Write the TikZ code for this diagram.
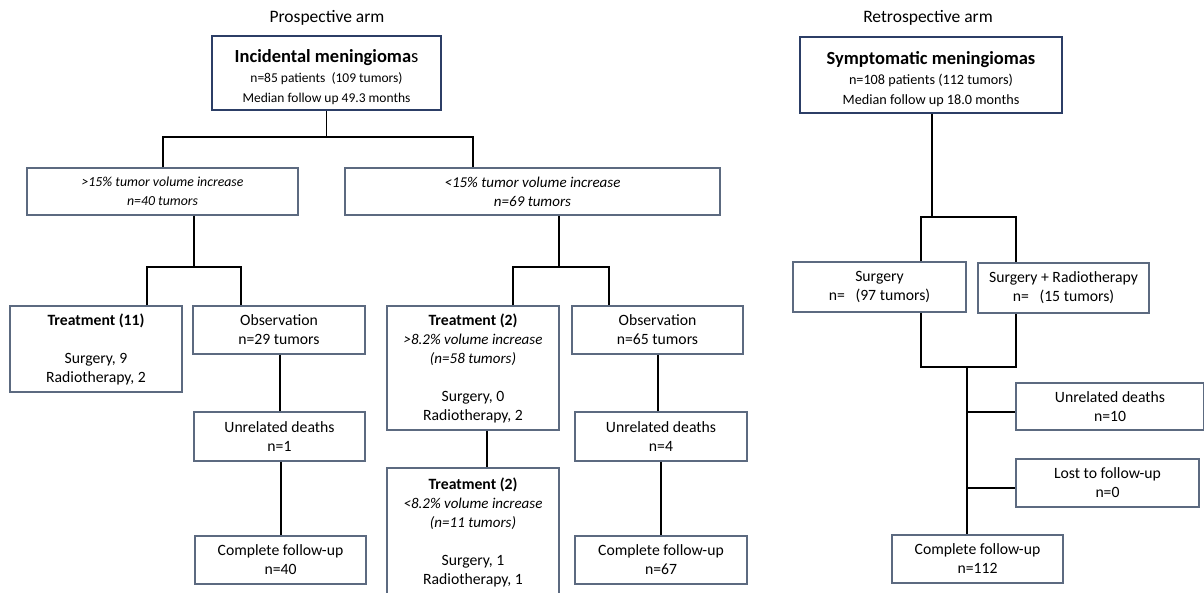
\documentclass[tikz,border=0pt]{standalone}
\usepackage{fontspec}
\setmainfont{Carlito}
\definecolor{boxc}{RGB}{92,106,128}
\definecolor{navy}{RGB}{44,62,102}
\newcommand{\itA}[1]{{\fontsize{13.8}{19}\selectfont\itshape #1}}
\newcommand{\itC}[1]{{\fontsize{15}{19}\selectfont\itshape #1}}
\newcommand{\itB}[1]{{\fontsize{15}{19}\selectfont\itshape #1}}
\newcommand{\bigtitle}[1]{{\fontsize{18.5}{20}\selectfont\bfseries #1}}
\tikzset{
  box/.style={draw=boxc, line width=1.3pt, inner sep=0pt, align=center, anchor=center,
    font=\fontsize{15.7}{19}\selectfont},
  frame/.style={draw=navy, line width=2.6pt, inner sep=0pt, anchor=center},
  frametext/.style={inner sep=0pt, align=center, font=\fontsize{13.5}{20}\selectfont},
  armtitle/.style={inner sep=0pt, font=\fontsize{17.5}{20}\selectfont},
  link/.style={draw=black, line width=1.3pt}
}
\begin{document}
\begin{tikzpicture}[x=1pt,y=-1pt]
\useasboundingbox (0,0) rectangle (1204,592);
% titles
\node[armtitle] (ptitle) at (327,18) {Prospective arm};
\node[armtitle] (rtitle) at (928,18) {Retrospective arm};
% top boxes
\node[frame, minimum width=229pt, minimum height=74pt] (inc) at (326.5,73) {};
\node[frametext, yshift=-4.5pt] (inctext) at (inc.center)
  {\bigtitle{Incidental meningioma}{\fontsize{18.5}{20}\selectfont s}\\n=85 patients\ \ (109 tumors)\\Median follow up 49.3 months};
\node[frame, minimum width=262pt, minimum height=76pt] (sym) at (931,75) {};
\node[frametext, yshift=-4.5pt, font=\fontsize{14.2}{20}\selectfont] (symtext) at (sym.center)
  {\bigtitle{Symptomatic meningiomas}\\n=108 patients (112 tumors)\\Median follow up 18.0 months};
% second level
\node[box, minimum width=271pt, minimum height=47pt] (gt15) at (162.5,191.5)
  {\itA{>15\% tumor volume increase}\\\itA{n=40 tumors}};
\node[box, minimum width=375pt, minimum height=47pt] (lt15) at (532.5,191.5)
  {\itC{<15\% tumor volume increase}\\\itC{n=69 tumors}};
% left branch
\node[box, minimum width=172pt, minimum height=86pt] (treat11) at (96,349)
  {\textbf{Treatment (11)}\\[19pt]Surgery, 9\\Radiotherapy, 2};
\node[box, minimum width=172pt, minimum height=48pt] (obs29) at (279,330)
  {Observation\\n=29 tumors};
\node[box, minimum width=171pt, minimum height=49pt] (ud1) at (279.5,436.5)
  {Unrelated deaths\\n=1};
\node[box, minimum width=171pt, minimum height=48pt] (cf40) at (280.5,560)
  {Complete follow-up\\n=40};
% middle branch
\node[box, minimum width=172pt, minimum height=124pt] (treat2a) at (473,368)
  {\textbf{Treatment (2)}\\\itB{>8.2\% volume increase}\\\itB{(n=58 tumors)}\\[19pt]Surgery, 0\\Radiotherapy, 2};
\node[box, minimum width=172pt, minimum height=128pt] (treat2b) at (473,532)
  {\textbf{Treatment (2)}\\\itB{<8.2\% volume increase}\\\itB{(n=11 tumors)}\\[19pt]Surgery, 1\\Radiotherapy, 1};
\node[box, minimum width=171pt, minimum height=48pt] (obs65) at (657.5,330)
  {Observation\\n=65 tumors};
\node[box, minimum width=172pt, minimum height=49pt] (ud4) at (661,436.5)
  {Unrelated deaths\\n=4};
\node[box, minimum width=172pt, minimum height=48pt] (cf67) at (661,560)
  {Complete follow-up\\n=67};
% retrospective arm
\node[box, minimum width=173pt, minimum height=50pt] (surg) at (879.5,287)
  {Surgery\\n=\ \ \ (97 tumors)};
\node[box, minimum width=171pt, minimum height=50pt] (surgrt) at (1063.5,288)
  {Surgery + Radiotherapy\\n=\ \ \ (15 tumors)};
\node[box, minimum width=188pt, minimum height=47pt] (ud10) at (1110,406.5)
  {Unrelated deaths\\n=10};
\node[box, minimum width=183pt, minimum height=48pt] (lost) at (1107.5,483)
  {Lost to follow-up\\n=0};
\node[box, minimum width=171pt, minimum height=48pt] (cf112) at (977.5,559)
  {Complete follow-up\\n=112};
% junction coordinates
\coordinate (a1) at (163,137);
\coordinate (a2) at (473,137);
\coordinate (b0) at (194,267);
\coordinate (b1) at (147,267);
\coordinate (b2) at (241,267);
\coordinate (m0) at (559,267);
\coordinate (m1) at (513,267);
\coordinate (m2) at (609,267);
\coordinate (o1) at (280,0);
\coordinate (o2) at (281,0);
\coordinate (o3) at (487,0);
\coordinate (o4) at (658,0);
\coordinate (o5) at (661,0);
\coordinate (r0) at (932,217);
\coordinate (r1) at (921,217);
\coordinate (r2) at (1016,217);
\coordinate (s1) at (921,367);
\coordinate (s2) at (1016,367);
\coordinate (s0) at (967,367);
\coordinate (t1) at (967,412);
\coordinate (t2) at (967,488);
% connectors
\draw[link] (inc.south) -- (inc.south |- a1);
\draw[link] (a1 |- gt15.north) -- (a1) -- (a2) -- (a2 |- lt15.north);
\draw[link] (b0 |- gt15.south) -- (b0);
\draw[link] (b1 |- treat11.north) -- (b1) -- (b2) -- (b2 |- obs29.north);
\draw[link] (m0 |- lt15.south) -- (m0);
\draw[link] (m1 |- treat2a.north) -- (m1) -- (m2) -- (m2 |- obs65.north);
\draw[link] (o1 |- obs29.south) -- (o1 |- ud1.north);
\draw[link] (o2 |- ud1.south) -- (o2 |- cf40.north);
\draw[link] (o3 |- treat2a.south) -- (o3 |- treat2b.north);
\draw[link] (o4 |- obs65.south) -- (o4 |- ud4.north);
\draw[link] (o5 |- ud4.south) -- (o5 |- cf67.north);
\draw[link] (sym.south -| r0) -- (r0);
\draw[link] (r1 |- surg.north) -- (r1) -- (r2) -- (r2 |- surgrt.north);
\draw[link] (s1 |- surg.south) -- (s1) -- (s2) -- (s2 |- surgrt.south);
\draw[link] (s0) -- (s0 |- cf112.north);
\draw[link] (t1) -- (t1 -| ud10.west);
\draw[link] (t2) -- (t2 -| lost.west);
\end{tikzpicture}
\end{document}
